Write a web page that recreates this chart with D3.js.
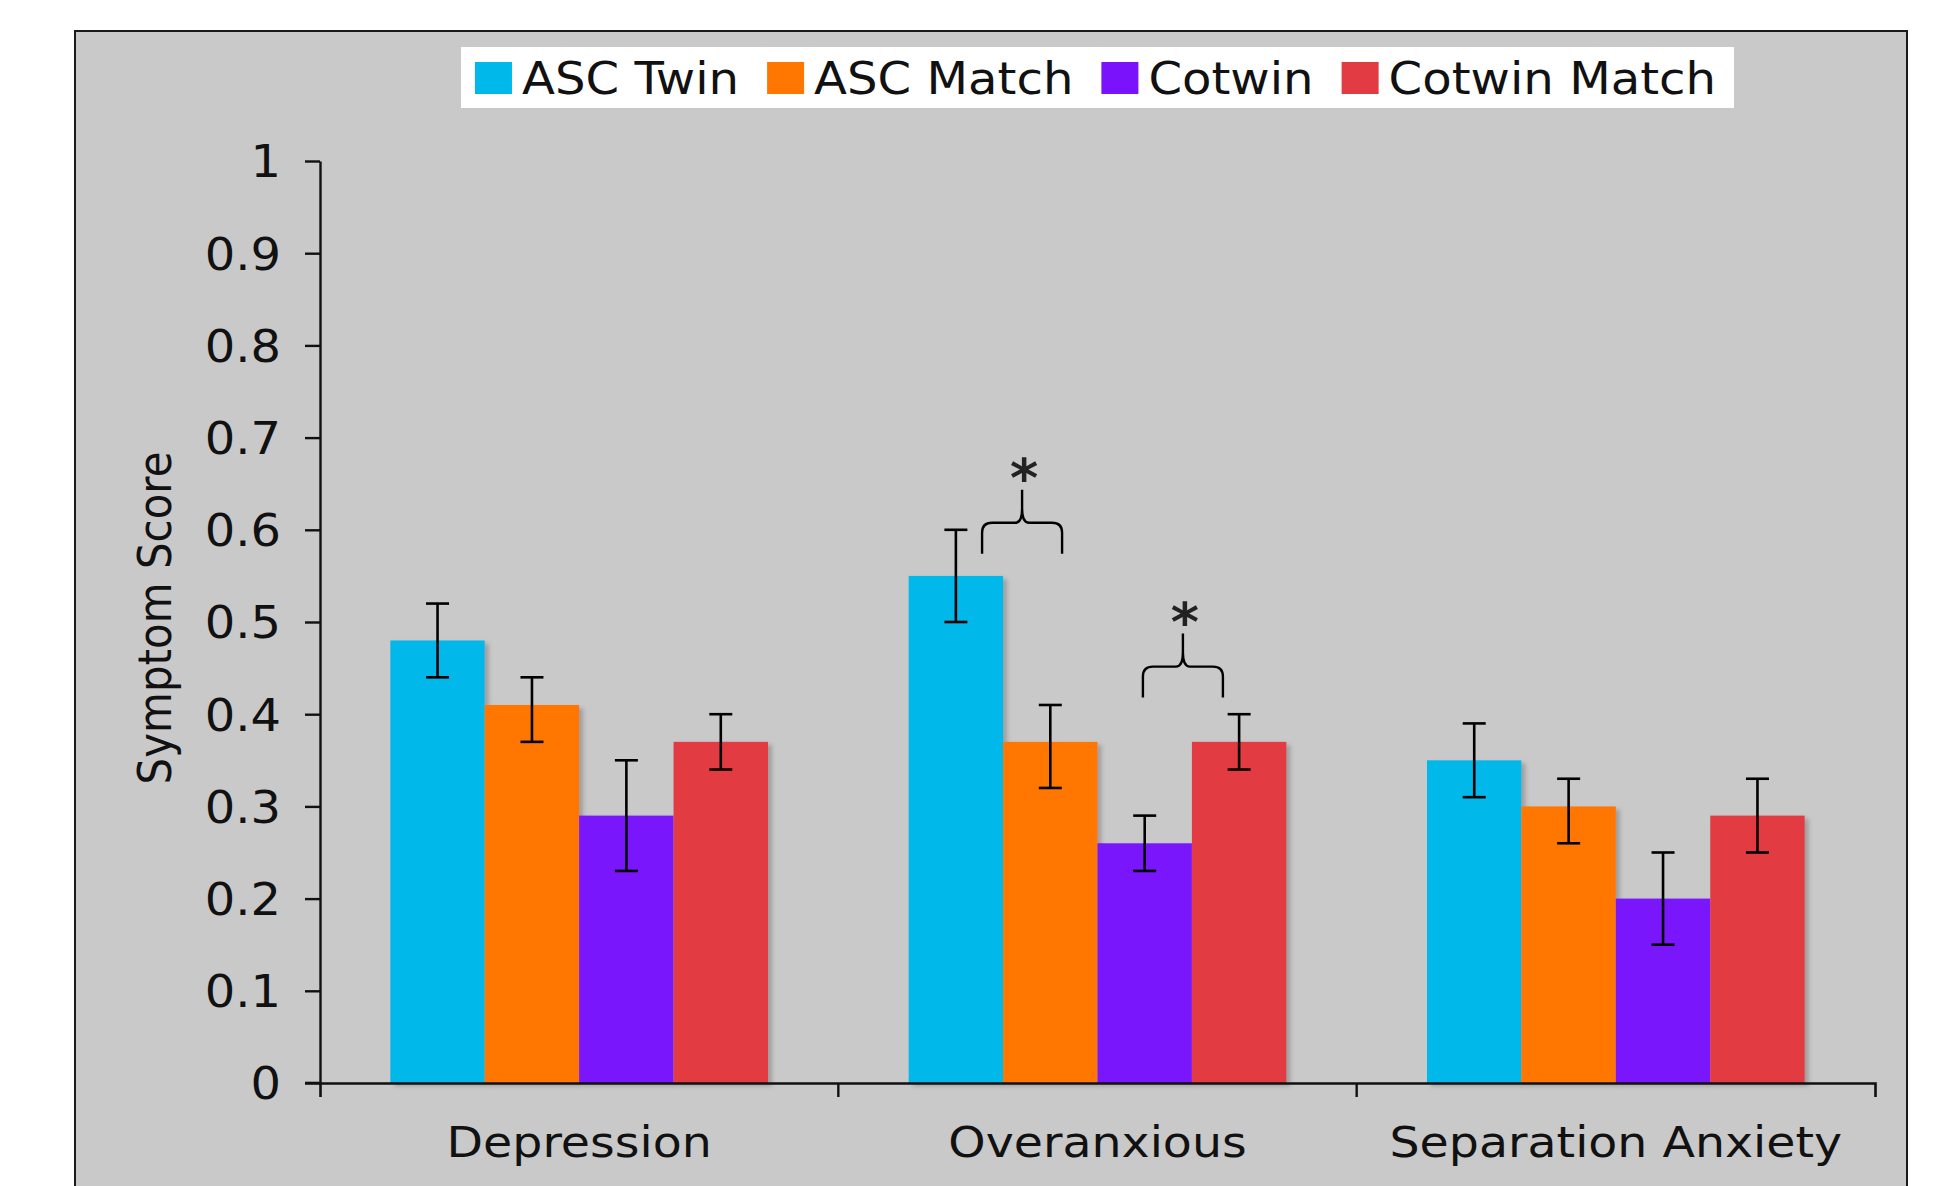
<!DOCTYPE html>
<html><head><meta charset="utf-8">
<script src="https://cdn.jsdelivr.net/npm/d3@7"></script>
<style>html,body{margin:0;padding:0;background:#fff;overflow:hidden}</style>
</head><body>
<svg id="chart" width="1939" height="1186"></svg>
<script>
// ---------- data ----------
const categories = ["Depression", "Overanxious", "Separation Anxiety"];
const seriesNames = ["ASC Twin", "ASC Match", "Cotwin", "Cotwin Match"];
const seriesColors = ["#00B8EA", "#FF7700", "#7A12FC", "#E23B43"];

const ascTwin      = [0.48, 0.55, 0.35];
const ascMatch     = [0.41, 0.37, 0.30];
const cotwin       = [0.29, 0.26, 0.20];
const cotwinMatch  = [0.37, 0.37, 0.29];

const ascTwinLow      = [0.44, 0.50, 0.31];
const ascTwinHigh     = [0.52, 0.60, 0.39];
const ascMatchLow     = [0.37, 0.32, 0.26];
const ascMatchHigh    = [0.44, 0.41, 0.33];
const cotwinLow       = [0.23, 0.23, 0.15];
const cotwinHigh      = [0.35, 0.29, 0.25];
const cotwinMatchLow  = [0.34, 0.34, 0.25];
const cotwinMatchHigh = [0.40, 0.40, 0.33];

const yTicks      = [0, 0.1, 0.2, 0.3, 0.4, 0.5, 0.6, 0.7, 0.8, 0.9, 1];
const yTickLabels = ["0", "0.1", "0.2", "0.3", "0.4", "0.5", "0.6", "0.7", "0.8", "0.9", "1"];
const yTitle = "Symptom Score";

// significance brackets: [category, series A, series B], level = value at brace foot
const sigPairs  = [["Overanxious", "ASC Twin", "ASC Match"], ["Overanxious", "Cotwin", "Cotwin Match"]];
const sigLevels = [0.574, 0.418];
const sigLabels = ["*", "*"];

// ---------- build ----------
const values = [ascTwin, ascMatch, cotwin, cotwinMatch];
const lows   = [ascTwinLow, ascMatchLow, cotwinLow, cotwinMatchLow];
const highs  = [ascTwinHigh, ascMatchHigh, cotwinHigh, cotwinMatchHigh];
const rows = [];
categories.forEach((c, ci) => seriesNames.forEach((s, si) => rows.push({
  cat: c, ser: s, si, v: values[si][ci], lo: lows[si][ci], hi: highs[si][ci]
})));

const svg = d3.select("#chart");
const FONT = "'DejaVu Sans', Verdana, sans-serif";
const INK = "#111";

// frame
svg.append("rect").attr("x", 75).attr("y", 31).attr("width", 1832).attr("height", 1300)
  .attr("fill", "#C9C9C9").attr("stroke", "#1a1a1a").attr("stroke-width", 2);

const defs = svg.append("defs");
const f = defs.append("filter").attr("id", "shadow").attr("x", "-10%").attr("y", "-5%")
  .attr("width", "130%").attr("height", "115%");
f.append("feDropShadow").attr("dx", 4).attr("dy", 3).attr("stdDeviation", 2)
  .attr("flood-color", "#6a6a6a").attr("flood-opacity", 0.45);

const x0 = d3.scaleBand().domain(categories).range([320, 1875]).paddingInner(0).paddingOuter(0);
const x1 = d3.scaleBand().domain(seriesNames).range([0, x0.bandwidth()]).paddingInner(0).paddingOuter(0.745);
const y = d3.scaleLinear().domain([0, 1]).range([1083, 161]);
const color = d3.scaleOrdinal().domain(seriesNames).range(seriesColors);

// bars
const bars = svg.append("g");
bars.selectAll("rect").data(rows).join("rect")
  .attr("x", d => x0(d.cat) + x1(d.ser))
  .attr("y", d => y(d.v))
  .attr("width", x1.bandwidth())
  .attr("height", d => y(0) - y(d.v))
  .attr("fill", d => color(d.ser))
  .attr("filter", "url(#shadow)");

// error bars
const cap = 11.5;
const eb = svg.append("g").attr("stroke", "#000").attr("stroke-width", 2.6).attr("fill", "none");
rows.forEach(d => {
  const cx = x0(d.cat) + x1(d.ser) + x1.bandwidth() / 2;
  eb.append("line").attr("x1", cx).attr("x2", cx).attr("y1", y(d.lo)).attr("y2", y(d.hi));
  eb.append("line").attr("x1", cx - cap).attr("x2", cx + cap).attr("y1", y(d.hi)).attr("y2", y(d.hi));
  eb.append("line").attr("x1", cx - cap).attr("x2", cx + cap).attr("y1", y(d.lo)).attr("y2", y(d.lo));
});

// y axis
const yAxis = d3.axisLeft(y).tickValues(yTicks)
  .tickFormat((d, i) => yTickLabels[i]).tickSize(15).tickSizeOuter(0);
const gy = svg.append("g").attr("transform", "translate(320,0)").call(yAxis);
gy.select(".domain").attr("stroke", INK).attr("stroke-width", 2.4);
gy.selectAll(".tick line").attr("stroke", INK).attr("stroke-width", 2.4);
gy.selectAll(".tick text")
  .attr("x", null).attr("dy", "0.36em")
  .attr("transform", "translate(-39,0) scale(1.09,1)")
  .attr("font-family", FONT).attr("font-size", 44).attr("fill", INK);

// x axis
const xAxis = d3.axisBottom(x0).tickSizeInner(0).tickSizeOuter(14).tickFormat(() => "");
const gx = svg.append("g").attr("transform", `translate(0,${y(0)})`).call(xAxis);
gx.select(".domain").attr("stroke", INK).attr("stroke-width", 2.6);
gx.selectAll(".tick line").remove();
categories.slice(1).forEach(c => {
  gx.append("line").attr("x1", x0(c)).attr("x2", x0(c)).attr("y1", 0).attr("y2", 14)
    .attr("stroke", INK).attr("stroke-width", 2.4);
});
// extend 0-tick left
svg.append("line").attr("x1", 305).attr("x2", 320).attr("y1", y(0)).attr("y2", y(0))
  .attr("stroke", INK).attr("stroke-width", 2.6);

// category labels
svg.append("g").selectAll("text").data(categories).join("text")
  .attr("transform", d => `translate(${x0(d) + x0.bandwidth() / 2},1157) scale(1.13,1)`)
  .attr("text-anchor", "middle")
  .attr("font-family", FONT).attr("font-size", 42).attr("fill", INK)
  .text(d => d);

// y title
svg.append("text")
  .attr("transform", "translate(171,618) scale(1.12,1) rotate(-90)")
  .attr("text-anchor", "middle")
  .attr("font-family", FONT).attr("font-size", 42).attr("fill", INK)
  .text(yTitle);

// legend
const legend = svg.append("g");
const legBg = legend.append("rect").attr("fill", "#fff");
const lsx = 1.07, swW = 37, swH = 32, gapSw = 10, gapItem = 28;
let lx = 0;
seriesNames.forEach((s, i) => {
  const g = legend.append("g");
  g.append("rect").attr("x", lx).attr("y", 62).attr("width", swW).attr("height", swH)
    .attr("fill", seriesColors[i]);
  const t = g.append("text")
    .attr("transform", `translate(${lx + swW + gapSw},94) scale(${lsx},1)`)
    .attr("font-family", FONT).attr("font-size", 45).attr("fill", INK).text(s);
  const w = t.node().getComputedTextLength() * lsx;
  lx += swW + gapSw + w + gapItem;
});
const legW = lx - gapItem;
const boxW = legW + 14 + 18;
const boxX = (320 + 1875) / 2 - boxW / 2;
legend.attr("transform", `translate(${boxX + 14},0)`);
legBg.attr("x", -14).attr("y", 47).attr("width", boxW).attr("height", 61);

// significance braces
const braceOffsets = [19, -9];
const hw = 40, leg = 31, peak = 64, r = 10;
const sg = svg.append("g");
sigPairs.forEach((p, i) => {
  const [c, a, b] = p;
  const ca = x0(c) + x1(a) + x1.bandwidth() / 2;
  const cb = x0(c) + x1(b) + x1.bandwidth() / 2;
  const xc = (ca + cb) / 2 + braceOffsets[i];
  const yb = y(sigLevels[i]);
  const yh = yb - leg, yt = yb - peak;
  const xl = xc - hw, xr = xc + hw;
  const path = `M${xl},${yb} L${xl},${yh + r} Q${xl},${yh} ${xl + r},${yh} L${xc - 7},${yh}
    C${xc - 2},${yh} ${xc},${yh - 4} ${xc},${yh - 14} L${xc},${yt}
    M${xc},${yh - 14} C${xc},${yh - 4} ${xc + 2},${yh} ${xc + 7},${yh}
    L${xr - r},${yh} Q${xr},${yh} ${xr},${yh + r} L${xr},${yb}`;
  sg.append("path").attr("d", path).attr("fill", "none").attr("stroke", "#000").attr("stroke-width", 2.4);
  sg.append("text").attr("x", xc + 2).attr("y", yb - 57)
    .attr("text-anchor", "middle").attr("font-family", FONT).attr("font-size", 54)
    .attr("font-weight", "bold")
    .attr("fill", "#222").text(sigLabels[i]);
});
</script>
</body></html>
